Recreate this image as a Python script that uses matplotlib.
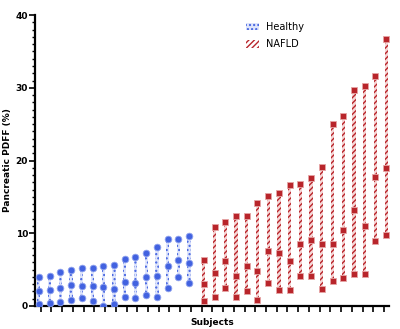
import matplotlib
matplotlib.use("Agg")
import matplotlib.pyplot as plt
from matplotlib.patches import Patch
from matplotlib.ticker import MultipleLocator
import numpy as np

plt.rcParams['hatch.linewidth'] = 1.0

healthy_min = [0.27, 0.46, 0.60, 0.87, 1.05, 0.73, 0.00, 0.27, 1.19, 1.10, 1.51, 1.28, 2.47, 4.03, 3.12]
healthy_mid = [2.06, 2.15, 2.43, 2.84, 2.80, 2.80, 2.61, 2.38, 3.34, 3.16, 3.99, 4.12, 5.45, 6.28, 5.86]
healthy_max = [4.03, 4.12, 4.67, 4.99, 5.22, 5.27, 5.54, 5.64, 6.50, 6.74, 7.29, 8.16, 9.16, 9.26, 9.67]

nafld_min = [0.69, 1.28, 2.47, 1.28, 2.11, 0.78, 3.16, 2.20, 2.25, 4.17, 4.08, 2.29, 3.39, 3.89, 4.35, 4.35, 8.98, 9.76]
nafld_mid = [2.98, 4.49, 6.14, 4.17, 5.50, 4.77, 7.51, 7.29, 6.14, 8.57, 9.07, 8.48, 8.48, 10.40, 13.20, 11.00, 17.69, 19.01]
nafld_max = [6.28, 10.86, 11.50, 12.37, 12.37, 14.20, 15.17, 15.58, 16.59, 16.72, 17.55, 19.06, 25.06, 26.07, 29.64, 30.19, 31.57, 36.70]

y_ticks = [0, 10, 20, 30, 40]
blue = "#4262E0"
red = "#B8252B"

fig = plt.figure(figsize=(4.0, 3.29), dpi=100)
ax = fig.add_axes([0.0875, 0.070, 0.885, 0.884])

nh = len(healthy_min)
nn = len(nafld_min)
xh = np.arange(nh) - 0.17
xn = np.arange(nh, nh + nn) + 0.2

hmin, hmid, hmax = map(np.array, (healthy_min, healthy_mid, healthy_max))
nmin, nmid, nmax = map(np.array, (nafld_min, nafld_mid, nafld_max))

ax.bar(xh, hmax - hmin, bottom=hmin, width=0.3, facecolor="#dfe5fb",
       edgecolor=blue, hatch="....", linewidth=0, zorder=2)
ax.bar(xn, nmax - nmin, bottom=nmin, width=0.3, facecolor="#f6d6d6",
       edgecolor=red, hatch="//////", linewidth=0, zorder=2)

for arr in (hmin, hmid, hmax):
    ax.plot(xh, arr, linestyle="none", marker="o", markersize=4.8,
            color=blue, markeredgecolor="#8fa2ee", markeredgewidth=0.6, zorder=3)
for arr in (nmin, nmid, nmax):
    ax.plot(xn, arr, linestyle="none", marker="s", markersize=4.6,
            color=red, markeredgecolor="#e6a5a5", markeredgewidth=0.6, zorder=3)

ax.set_xlim(-0.53, nh + nn - 0.54)
ax.set_ylim(0, 40)
ax.set_xticks(np.arange(nh + nn))
ax.set_xticklabels([])
ax.set_yticks(y_ticks)
ax.set_yticklabels([str(t) for t in y_ticks], fontsize=6.5, fontweight="bold")
ax.yaxis.set_minor_locator(MultipleLocator(1))

for s in ("top", "right"):
    ax.spines[s].set_visible(False)
for s in ("left", "bottom"):
    ax.spines[s].set_linewidth(1.6)
    ax.spines[s].set_color("black")

ax.tick_params(axis="x", direction="out", length=4, width=1.2, pad=1)
ax.tick_params(axis="y", which="major", direction="out", length=4, width=1.2, pad=1)
ax.tick_params(axis="y", which="minor", direction="out", length=2.5, width=1.0)

ax.set_ylabel("Pancreatic PDFF (%)", fontsize=6.5, fontweight="bold")
ax.yaxis.set_label_coords(-0.065, 0.5)
ax.set_xlabel("Subjects", fontsize=6.5, fontweight="bold")
ax.xaxis.set_label_coords(0.5, -0.04)

handles = [
    Patch(facecolor="#dfe5fb", edgecolor=blue, hatch="....", linewidth=0, label="Healthy"),
    Patch(facecolor="white", edgecolor=red, hatch="//////", linewidth=0, label="NAFLD"),
]
ax.legend(handles=handles, loc="upper left", bbox_to_anchor=(0.585, 0.99),
          frameon=False, fontsize=7, handlelength=1.3, handleheight=0.8,
          handletextpad=0.8, labelspacing=0.75, borderaxespad=0)

fig.savefig("out.png", dpi=100)
